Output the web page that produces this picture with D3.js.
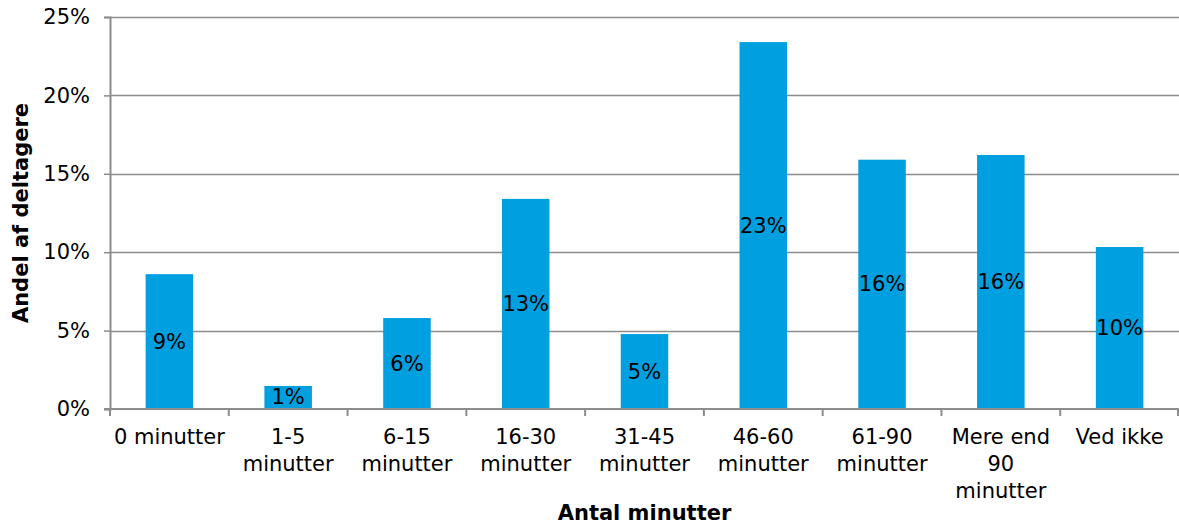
<!DOCTYPE html>
<html>
<head>
<meta charset="utf-8">
<script src="https://cdn.jsdelivr.net/npm/d3@7"></script>
<style>
  html, body { margin: 0; padding: 0; background: #fff; }
  svg { display: block; font-family: "DejaVu Sans", Verdana, sans-serif; }
</style>
</head>
<body>
<svg id="chart" width="1179" height="527"></svg>
<script>
// Time spent (minutes) – share of participants
const categories = [
  ["0 minutter"],
  ["1-5", "minutter"],
  ["6-15", "minutter"],
  ["16-30", "minutter"],
  ["31-45", "minutter"],
  ["46-60", "minutter"],
  ["61-90", "minutter"],
  ["Mere end", "90", "minutter"],
  ["Ved ikke"]
];
const shares = [0.086, 0.0147, 0.058, 0.134, 0.0478, 0.234, 0.159, 0.162, 0.1033];
const yTicks = [0, 0.05, 0.10, 0.15, 0.20, 0.25];

const margin = { top: 17, right: 0, bottom: 118, left: 110 };
const W = 1179, H = 527;
const svg = d3.select("#chart");

const keys = categories.map(c => c.join(" "));
const x = d3.scaleBand()
  .domain(keys)
  .range([margin.left, W - margin.right])
  .paddingInner(0.6)
  .paddingOuter(0.3);

const y = d3.scaleLinear()
  .domain([0, 0.25])
  .range([H - margin.bottom, margin.top]);

const gridColor = "#8c8c8c";
const fmt = d3.format(".0%");
const FS = 21;

// horizontal gridlines
svg.append("g")
  .selectAll("line")
  .data(yTicks.slice(1))
  .join("line")
  .attr("x1", margin.left).attr("x2", W)
  .attr("y1", d => Math.round(y(d)) + 0.5).attr("y2", d => Math.round(y(d)) + 0.5)
  .attr("stroke", gridColor).attr("stroke-width", 1.5);

// bars
svg.append("g")
  .selectAll("rect")
  .data(shares)
  .join("rect")
  .attr("x", (d, i) => x(keys[i]))
  .attr("width", x.bandwidth())
  .attr("y", d => y(d))
  .attr("height", d => y(0) - y(d))
  .attr("fill", "#009fe0");

// value labels centred in each bar
svg.append("g")
  .selectAll("text")
  .data(shares)
  .join("text")
  .attr("x", (d, i) => x(keys[i]) + x.bandwidth() / 2)
  .attr("y", d => (y(d) + y(0)) / 2)
  .attr("text-anchor", "middle")
  .attr("dominant-baseline", "central")
  .attr("font-size", FS)
  .attr("fill", "#000")
  .text(d => fmt(Math.round(d * 100) / 100));

// y axis
const yAxis = d3.axisLeft(y)
  .tickValues(yTicks)
  .tickFormat(fmt)
  .tickSize(6)
  .tickPadding(14);
const gy = svg.append("g")
  .attr("transform", `translate(${margin.left},0)`)
  .call(yAxis);
gy.select(".domain").attr("stroke", gridColor).attr("stroke-width", 2);
gy.selectAll(".tick line").attr("stroke", gridColor).attr("stroke-width", 1.5);
gy.selectAll(".tick text")
  .attr("font-family", "DejaVu Sans, Verdana, sans-serif")
  .attr("font-size", FS).attr("fill", "#000");

// x axis baseline and category separators
const gx = svg.append("g");
gx.append("line")
  .attr("x1", margin.left - 6).attr("x2", W)
  .attr("y1", y(0)).attr("y2", y(0))
  .attr("stroke", gridColor).attr("stroke-width", 2);
const bounds = keys.map(k => x(k) - (x.step() - x.bandwidth()) / 2);
bounds.push(W - 1);
gx.selectAll("line.sep")
  .data(bounds)
  .join("line")
  .attr("class", "sep")
  .attr("x1", d => d).attr("x2", d => d)
  .attr("y1", y(0)).attr("y2", y(0) + 7)
  .attr("stroke", gridColor).attr("stroke-width", 2);

// category labels (multi-line)
const catLabels = gx.selectAll("text.cat")
  .data(categories)
  .join("text")
  .attr("class", "cat")
  .attr("text-anchor", "middle")
  .attr("font-size", FS)
  .attr("fill", "#000")
  .attr("transform", (d, i) => `translate(${x(keys[i]) + x.bandwidth() / 2},${y(0) + 35})`);
catLabels.selectAll("tspan")
  .data(d => d)
  .join("tspan")
  .attr("x", 0)
  .attr("dy", (d, i) => i === 0 ? 0 : 27)
  .text(d => d);

// axis titles
svg.append("text")
  .attr("x", (margin.left + W) / 2)
  .attr("y", 520)
  .attr("text-anchor", "middle")
  .attr("font-size", FS)
  .attr("font-weight", "bold")
  .text("Antal minutter");

svg.append("text")
  .attr("transform", `translate(28,${(y(0) + y(0.25)) / 2}) rotate(-90)`)
  .attr("text-anchor", "middle")
  .attr("font-size", FS)
  .attr("font-weight", "bold")
  .text("Andel af deltagere");
</script>
</body>
</html>
